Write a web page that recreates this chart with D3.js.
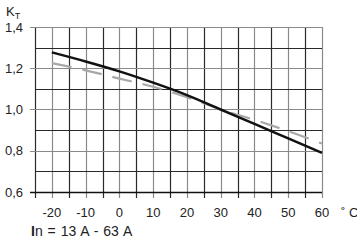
<!DOCTYPE html>
<html>
<head>
<meta charset="utf-8">
<script src="https://cdn.jsdelivr.net/npm/d3@7"></script>
<style>
  body { margin: 0; background: #fff; }
  text { font-family: "Liberation Sans", Arial, sans-serif; fill: #222; }
</style>
</head>
<body>
<svg id="chart" width="357" height="240"></svg>
<script>
// temperature (°C) and correction factor KT
const temps = [-20, -10, 0, 10, 20, 30, 40, 50, 60];
const ktSolid = [1.277, 1.233, 1.185, 1.13, 1.07, 1.0, 0.93, 0.86, 0.79];
const ktDashed = [1.225, 1.19, 1.15, 1.11, 1.06, 1.0, 0.95, 0.895, 0.835];
const xTickLabels = [-20, -10, 0, 10, 20, 30, 40, 50, 60];
const yTickLabels = [0.6, 0.8, 1.0, 1.2, 1.4];

const svg = d3.select('#chart');
const margin = {top: 27, right: 35, bottom: 48, left: 35};
const width = 357 - margin.left - margin.right;
const height = 240 - margin.top - margin.bottom;

const g = svg.append('g')
    .attr('transform', 'translate(' + margin.left + ',' + margin.top + ')');

const x = d3.scaleLinear().domain([-25, 60]).range([0, width]);
const y = d3.scaleLinear().domain([0.6, 1.4]).range([height, 0]);

// vertical grid lines every 5 degrees, with small ticks below
const xGrid = d3.range(-25, 61, 5);
g.selectAll('.vgrid')
    .data(xGrid)
  .enter().append('line')
    .attr('x1', d => Math.round(x(d)) + 0.5)
    .attr('x2', d => Math.round(x(d)) + 0.5)
    .attr('y1', 0)
    .attr('y2', height + 6)
    .attr('stroke', d => d % 10 === 0 ? '#8a8a8a' : '#2a2a2a')
    .attr('stroke-width', 1.2);

// horizontal grid lines every 0.1
const yGrid = d3.range(6, 15).map(d => d / 10);
g.selectAll('.hgrid')
    .data(yGrid)
  .enter().append('line')
    .attr('x1', d => yTickLabels.includes(d) ? -5 : 0)
    .attr('x2', width)
    .attr('y1', d => Math.round(y(d)) + 0.5)
    .attr('y2', d => Math.round(y(d)) + 0.5)
    .attr('stroke', d => d === 0.6 ? '#111' : (Math.round(d * 10) % 2 === 0 ? '#8a8a8a' : '#2a2a2a'))
    .attr('stroke-width', d => d === 0.6 ? 1.6 : 1.2);

// y labels
g.selectAll('.ylab')
    .data(yTickLabels)
  .enter().append('text')
    .attr('x', -12)
    .attr('y', d => y(d))
    .attr('dy', '0.35em')
    .attr('text-anchor', 'end')
    .style('font-size', '13px')
    .text(d => d3.format('.1f')(d).replace('.', ','));

// x labels
g.selectAll('.xlab')
    .data(xTickLabels)
  .enter().append('text')
    .attr('x', d => x(d))
    .attr('y', height + 20)
    .attr('dy', '0.35em')
    .attr('text-anchor', 'middle')
    .style('font-size', '13px')
    .text(d => d);

// unit
svg.append('text')
    .attr('x', 341)
    .attr('y', 217)
    .style('font-size', '13px')
    .text('\u02DA C');

// KT label
const kt = svg.append('text')
    .attr('x', 6)
    .attr('y', 16)
    .style('font-size', '13px');
kt.append('tspan').text('K');
kt.append('tspan').attr('dy', 3).style('font-size', '9px').text('T');

// current range note
const note = svg.append('text')
    .attr('x', 31)
    .attr('y', 236)
    .style('font-size', '14px')
    .style('word-spacing', '1px');
note.append('tspan').style('font-weight', 'bold').text('I');
note.append('tspan').text('n = 13 A - 63 A');

const line = d3.line()
    .x((d, i) => x(temps[i]))
    .y(d => y(d))
    .curve(d3.curveMonotoneX);

g.append('path')
    .datum(ktDashed)
    .attr('fill', 'none')
    .attr('stroke', '#a8a8a8')
    .attr('stroke-width', 2.2)
    .attr('stroke-dasharray', '20,11')
    .attr('d', line);

g.append('path')
    .datum(ktSolid)
    .attr('fill', 'none')
    .attr('stroke', '#111')
    .attr('stroke-width', 2.5)
    .attr('d', line);
</script>
</body>
</html>
